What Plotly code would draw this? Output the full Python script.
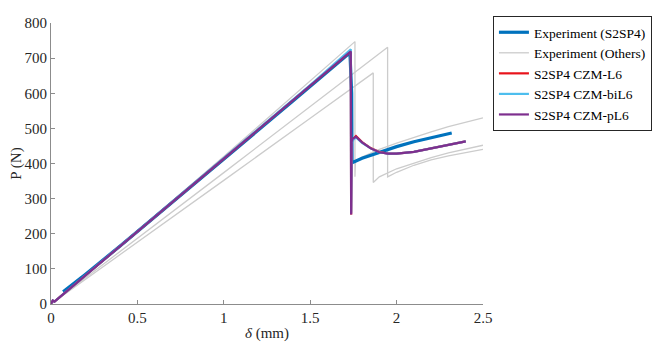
import plotly.graph_objects as go

# Experiment (S2SP4)
exp_x = [0.07, 0.2, 0.4, 0.6, 0.8, 1.0, 1.2, 1.4, 1.6, 1.73, 1.74, 1.742, 1.8, 1.9, 2.0, 2.1, 2.2, 2.319]
exp_y = [35, 85, 165, 247, 330, 412, 495, 578, 660, 715, 600, 402, 415, 432, 448, 462, 474, 487]

# Experiment (Others)
oth1_x = [0, 0.5, 1.0, 1.5, 1.759, 1.759, 1.762, 1.8, 1.9, 2.0, 2.1, 2.2, 2.3, 2.4, 2.5]
oth1_y = [0, 208, 420, 635, 747, 362, 405, 418, 440, 458, 475, 490, 505, 518, 530]
oth2_x = [0, 0.5, 1.0, 1.5, 1.948, 1.948, 2.0, 2.1, 2.2, 2.3, 2.4, 2.5]
oth2_y = [0, 186, 374, 562, 731, 362, 375, 395, 410, 422, 432, 440]
oth3_x = [0, 0.5, 1.0, 1.5, 1.865, 1.865, 1.9, 2.0, 2.1, 2.2, 2.3, 2.4, 2.5]
oth3_y = [0, 175, 352, 529, 658, 346, 362, 385, 402, 417, 430, 441, 452]

# CZM models
czm_x = [0, 0.01, 0.02, 0.5, 1.0, 1.5, 1.735, 1.737, 1.740, 1.745, 1.765, 1.8, 1.85, 1.9, 1.95, 2.0, 2.1, 2.2, 2.3, 2.4]
l6_y = [0, 10, 7, 206, 413, 620, 719, 255, 460, 468, 478, 461, 444, 433, 428, 428, 433, 443, 453, 463]
bil6_y = [0, 10, 7, 207, 415, 623, 725, 260, 458, 466, 474, 459, 443, 432, 428, 428, 433, 443, 453, 463]
pl6_y = [0, 10, 7, 206, 413, 620, 719, 255, 462, 470, 476, 460, 443, 432, 428, 428, 433, 443, 453, 463]

FONT = "Liberation Serif, Times New Roman, serif"

fig = go.Figure()
gray = "#cccccc"
for i, (xs, ys) in enumerate([(oth1_x, oth1_y), (oth2_x, oth2_y), (oth3_x, oth3_y)]):
    fig.add_trace(go.Scatter(x=xs, y=ys, mode="lines", name="Experiment (Others)",
                             line=dict(color=gray, width=1.3), legendgroup="others",
                             showlegend=(i == 0), legendrank=2))
fig.add_trace(go.Scatter(x=exp_x, y=exp_y, mode="lines", name="Experiment (S2SP4)",
                         line=dict(color="#0072BD", width=3.2), legendrank=1))
fig.add_trace(go.Scatter(x=czm_x, y=l6_y, mode="lines", name="S2SP4 CZM-L6",
                         line=dict(color="#E8131B", width=2.2), legendrank=3))
fig.add_trace(go.Scatter(x=czm_x, y=bil6_y, mode="lines", name="S2SP4 CZM-biL6",
                         line=dict(color="#4DBEEE", width=2.2), legendrank=4))
fig.add_trace(go.Scatter(x=czm_x, y=pl6_y, mode="lines", name="S2SP4 CZM-pL6",
                         line=dict(color="#7E2F8E", width=2.2), legendrank=5))

axis_common = dict(showgrid=False, zeroline=False, showline=True, linecolor="#8c8c8c",
                   linewidth=1, ticks="inside", ticklen=4, tickcolor="#8c8c8c",
                   tickfont=dict(family=FONT, size=15, color="#262626"),
                   mirror=False, automargin=False, ticklabeloverflow="allow")
fig.update_xaxes(range=[0, 2.5], tickvals=[0, 0.5, 1, 1.5, 2, 2.5],
                 ticktext=["0", "0.5", "1", "1.5", "2", "2.5"],
                 title=dict(text="<i>δ</i> (mm)", standoff=2,
                            font=dict(family=FONT, size=15, color="#262626")),
                 **axis_common)
fig.update_yaxes(range=[0, 800], tickvals=list(range(0, 801, 100)),
                 title=dict(text="P (N)", standoff=0,
                            font=dict(family=FONT, size=15, color="#262626")),
                 **axis_common)
fig.update_layout(
    width=664, height=346,
    margin=dict(l=43, r=189, t=8, b=50),
    plot_bgcolor="white", paper_bgcolor="white",
    legend=dict(x=1.023, y=1.025, xanchor="left", yanchor="top",
                bordercolor="#262626", borderwidth=1, bgcolor="white",
                font=dict(family=FONT, size=13.5, color="#000000"),
                tracegroupgap=0, itemwidth=30),
)
fig.write_html("out.html")
